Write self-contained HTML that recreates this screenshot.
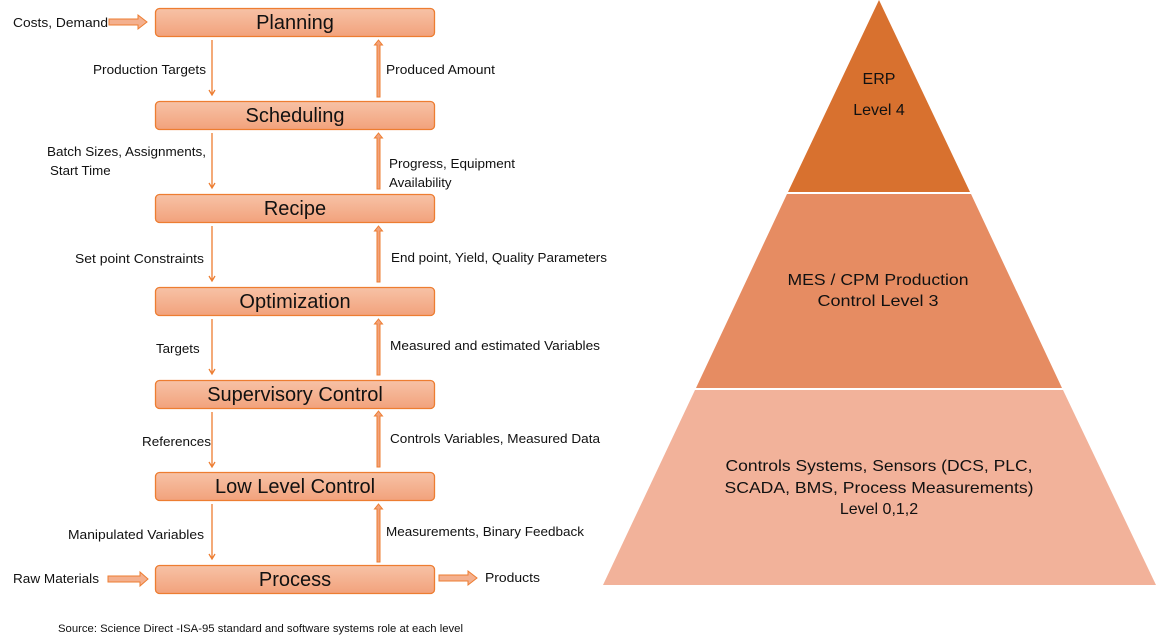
<!DOCTYPE html>
<html><head><meta charset="utf-8"><style>
html,body{margin:0;padding:0;background:#fff;}
svg{display:block;font-family:"Liberation Sans",sans-serif;}
</style></head><body>
<svg width="1170" height="638" viewBox="0 0 1170 638">
<defs>
<linearGradient id="g" x1="0" y1="0" x2="0" y2="1">
<stop offset="0" stop-color="#f7c2a6"/><stop offset="1" stop-color="#f2a27c"/>
</linearGradient>
</defs>
<g stroke="#ed7d31" stroke-width="1.3" fill="url(#g)">
<rect x="155.5" y="8.5" width="279" height="28" rx="4"/>
<rect x="155.5" y="101.5" width="279" height="28" rx="4"/>
<rect x="155.5" y="194.5" width="279" height="28" rx="4"/>
<rect x="155.5" y="287.5" width="279" height="28" rx="4"/>
<rect x="155.5" y="380.5" width="279" height="28" rx="4"/>
<rect x="155.5" y="472.5" width="279" height="28" rx="4"/>
<rect x="155.5" y="565.5" width="279" height="28" rx="4"/>
</g>
<g font-size="20" text-anchor="middle" fill="#111">
<text x="295" y="29">Planning</text>
<text x="295" y="122">Scheduling</text>
<text x="295" y="215">Recipe</text>
<text x="295" y="308">Optimization</text>
<text x="295" y="401">Supervisory Control</text>
<text x="295" y="493">Low Level Control</text>
<text x="295" y="586">Process</text>
</g>
<g stroke="#ed7d31" stroke-width="1.3" fill="none">
<path d="M212 40V94M209 90l3 5 3-5"/>
<path d="M212 133V187M209 183l3 5 3-5"/>
<path d="M212 226V280M209 276l3 5 3-5"/>
<path d="M212 319V373M209 369l3 5 3-5"/>
<path d="M212 412V466M209 462l3 5 3-5"/>
<path d="M212 504V558M209 554l3 5 3-5"/>
</g>
<g fill="#f2a27c" stroke="#ed7d31" stroke-width="1">
<path d="M377 97V45h-2.5l4-5 4 5H380V97z"/>
<path d="M377 189V138h-2.5l4-5 4 5H380V189z"/>
<path d="M377 282V231h-2.5l4-5 4 5H380V282z"/>
<path d="M377 375V324h-2.5l4-5 4 5H380V375z"/>
<path d="M377 467V416h-2.5l4-5 4 5H380V467z"/>
<path d="M377 562V509h-2.5l4-5 4 5H380V562z"/>
</g>
<g fill="#f4b08e" stroke="#ed7d31" stroke-width="1">
<path d="M109 19h29v-4l9 7-9 7v-4h-29z"/>
<path d="M108 576h32v-4l8 7-8 7v-4h-32z"/>
<path d="M439 575h29v-4l9 7-9 7v-4h-29z"/>
</g>
<g font-size="13.3" fill="#111">
<text x="13" y="27" textLength="95" lengthAdjust="spacingAndGlyphs">Costs, Demand</text>
<text x="93" y="74" textLength="113" lengthAdjust="spacingAndGlyphs">Production Targets</text>
<text x="386" y="74" textLength="109" lengthAdjust="spacingAndGlyphs">Produced Amount</text>
<text x="47" y="156" textLength="159" lengthAdjust="spacingAndGlyphs">Batch Sizes, Assignments,</text>
<text x="50" y="175">Start Time</text>
<text x="389" y="168" textLength="126" lengthAdjust="spacingAndGlyphs">Progress, Equipment</text>
<text x="389" y="187">Availability</text>
<text x="75" y="263" textLength="129" lengthAdjust="spacingAndGlyphs">Set point Constraints</text>
<text x="391" y="262" textLength="216" lengthAdjust="spacingAndGlyphs">End point, Yield, Quality Parameters</text>
<text x="156" y="353">Targets</text>
<text x="390" y="350" textLength="210" lengthAdjust="spacingAndGlyphs">Measured and estimated Variables</text>
<text x="142" y="446" textLength="69" lengthAdjust="spacingAndGlyphs">References</text>
<text x="390" y="443" textLength="210" lengthAdjust="spacingAndGlyphs">Controls Variables, Measured Data</text>
<text x="68" y="539" textLength="136" lengthAdjust="spacingAndGlyphs">Manipulated Variables</text>
<text x="386" y="536" textLength="198" lengthAdjust="spacingAndGlyphs">Measurements, Binary Feedback</text>
<text x="13" y="583" textLength="86" lengthAdjust="spacingAndGlyphs">Raw Materials</text>
<text x="485" y="582" textLength="55" lengthAdjust="spacingAndGlyphs">Products</text>
</g>
<text x="58" y="632" font-size="11" fill="#111" textLength="405" lengthAdjust="spacingAndGlyphs">Source: Science Direct -ISA-95 standard and software systems role at each level</text>
<polygon points="879,0 970,192 788,192" fill="#d8712f"/>
<polygon points="787,194 971,194 1062,388 696,388" fill="#e68c62"/>
<polygon points="695,390 1063,390 1156,585 603,585" fill="#f2b29a"/>
<g font-size="16" text-anchor="middle" fill="#111">
<text x="879" y="84">ERP</text>
<text x="879" y="115">Level 4</text>
<text x="878" y="285" textLength="181" lengthAdjust="spacingAndGlyphs">MES / CPM Production</text>
<text x="878" y="306" textLength="121" lengthAdjust="spacingAndGlyphs">Control Level 3</text>
<text x="879" y="471" textLength="307" lengthAdjust="spacingAndGlyphs">Controls Systems, Sensors (DCS, PLC,</text>
<text x="879" y="493" textLength="309" lengthAdjust="spacingAndGlyphs">SCADA, BMS, Process Measurements)</text>
<text x="879" y="514">Level 0,1,2</text>
</g>
</svg>
</body></html>
